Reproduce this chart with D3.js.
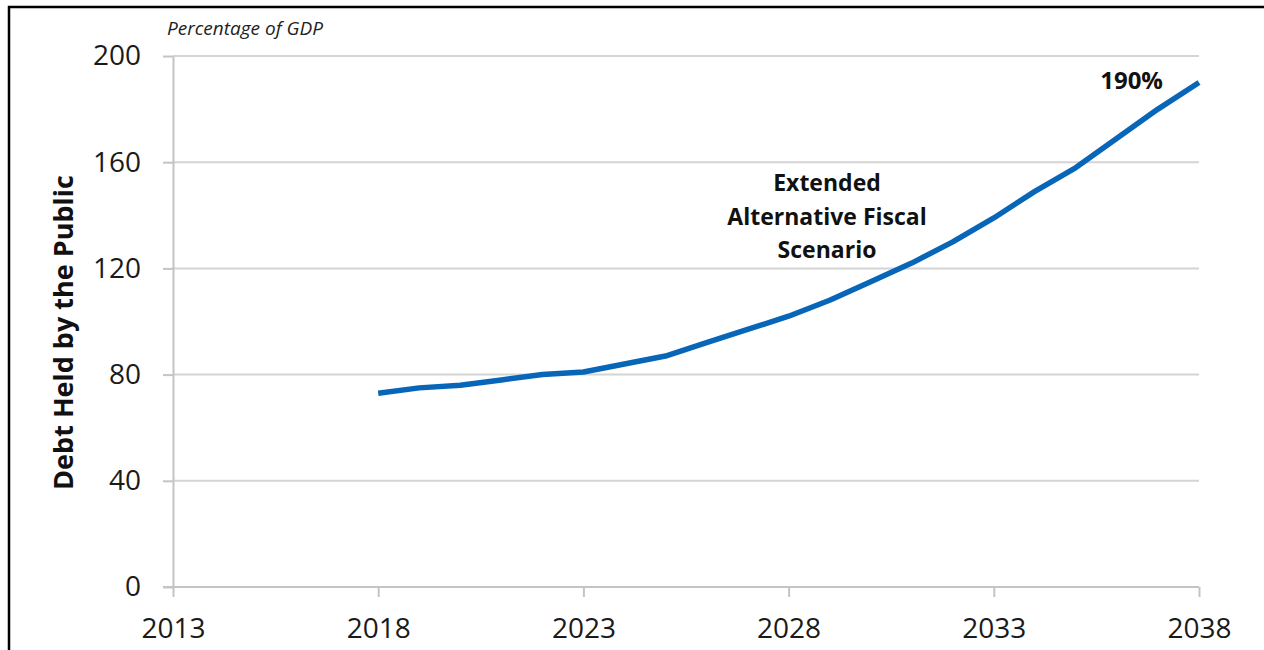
<!DOCTYPE html>
<html>
<head>
<meta charset="utf-8">
<script src="https://cdn.jsdelivr.net/npm/d3@7"></script>
<style>
  body { margin: 0; background: #fff; }
  svg { display: block; font-family: "Open Sans", sans-serif; }
</style>
</head>
<body>
<svg id="chart" width="1264" height="650"></svg>
<script>
// data
const years = [2018, 2019, 2020, 2021, 2022, 2023, 2024, 2025, 2026, 2027, 2028,
               2029, 2030, 2031, 2032, 2033, 2034, 2035, 2036, 2037, 2038];
const debt = [73, 75, 76, 78, 80, 81, 84, 87, 92, 97, 102,
              108, 115, 122, 130, 139, 149, 158, 169, 180, 190];
const xTicks = [2013, 2018, 2023, 2028, 2033, 2038];
const yTicks = [0, 40, 80, 120, 160, 200];
const unitLabel = "Percentage of GDP";
const yTitle = "Debt Held by the Public";
const noteLines = ["Extended", "Alternative Fiscal", "Scenario"];
const endLabel = "190%";

const svg = d3.select("#chart");
const margin = { top: 56, right: 65, bottom: 63, left: 173 };
const W = 1264, H = 650;

const x = d3.scaleLinear().domain([2013, 2038]).range([margin.left, W - margin.right]);
const y = d3.scaleLinear().domain([0, 200]).range([H - margin.bottom, margin.top]);

// frame (left + top edges only visible)
svg.append("path")
    .attr("d", `M9,${H} V7 H${W}`)
    .attr("fill", "none")
    .attr("stroke", "#000")
    .attr("stroke-width", 2.5);

// gridlines
svg.append("g")
    .selectAll("line")
    .data(yTicks.filter(d => d > 0))
    .enter()
    .append("line")
    .attr("x1", x(2013))
    .attr("x2", x(2038))
    .attr("y1", d => y(d))
    .attr("y2", d => y(d))
    .attr("stroke", "#d4d4d4")
    .attr("stroke-width", 2);

// y axis
const yAxis = svg.append("g")
    .attr("transform", `translate(${x(2013)},0)`)
    .call(d3.axisLeft(y).tickValues(yTicks).tickSize(10).tickPadding(22).tickSizeOuter(0));

// x axis
const xAxis = svg.append("g")
    .attr("transform", `translate(0,${y(0)})`)
    .call(d3.axisBottom(x).tickValues(xTicks).tickFormat(d3.format("d"))
        .tickSize(10).tickPadding(21).tickSizeOuter(0));

[yAxis, xAxis].forEach(a => {
    a.select(".domain").attr("stroke", "#c4c4c4").attr("stroke-width", 2);
    a.selectAll(".tick line").attr("stroke", "#c4c4c4").attr("stroke-width", 2);
    a.selectAll(".tick text")
        .attr("fill", "#1a1a1a")
        .style("font-size", "28px")
        .style("font-family", "'Open Sans', sans-serif");
});
// the x domain starts at the y axis tick end
xAxis.select(".domain").attr("d", `M${x(2013) - 10},0H${x(2038)}`);

// series
const line = d3.line()
    .x((d, i) => x(years[i]))
    .y(d => y(d));

svg.append("path")
    .datum(debt)
    .attr("fill", "none")
    .attr("stroke", "#0866b8")
    .attr("stroke-width", 5.5)
    .attr("stroke-linejoin", "round")
    .attr("d", line);

// texts
svg.append("text")
    .attr("x", 167)
    .attr("y", 35)
    .attr("font-style", "italic")
    .attr("font-size", 19)
    .attr("fill", "#222")
    .text(unitLabel);

svg.append("text")
    .attr("transform", `translate(62,${(175 + 490) / 2}) rotate(-90)`)
    .attr("text-anchor", "middle")
    .attr("dominant-baseline", "central")
    .attr("font-weight", "bold")
    .attr("font-size", 27)
    .attr("fill", "#111")
    .text(yTitle);

svg.append("text")
    .attr("text-anchor", "middle")
    .attr("font-weight", "bold")
    .attr("font-size", 23)
    .attr("fill", "#111")
    .selectAll("tspan")
    .data(noteLines)
    .enter()
    .append("tspan")
    .attr("x", 827)
    .attr("y", (d, i) => 191 + i * 33.5)
    .text(d => d);

svg.append("text")
    .attr("x", x(2038) - 36)
    .attr("y", 89)
    .attr("text-anchor", "end")
    .attr("font-weight", "bold")
    .attr("font-size", 24)
    .attr("fill", "#111")
    .text(endLabel);
</script>
</body>
</html>
